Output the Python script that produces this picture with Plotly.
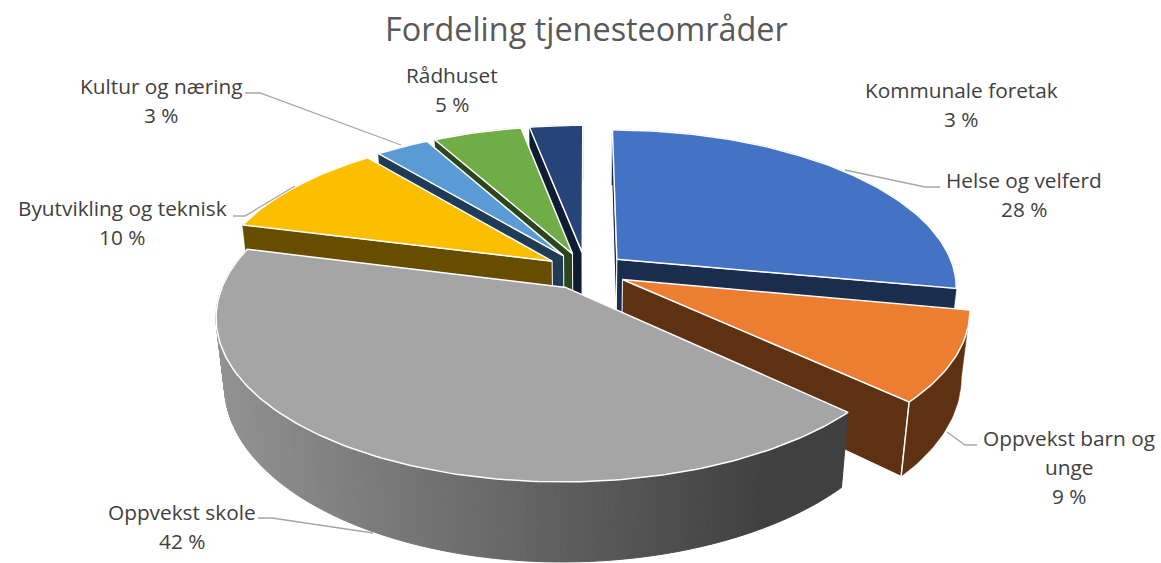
import numpy as np
import plotly.graph_objects as go

# ---- data ----
categories = ["Helse og velferd", "Oppvekst barn og unge", "Oppvekst skole",
              "Byutvikling og teknisk", "Kultur og næring", "Rådhuset", "Kommunale foretak"]
values = [28, 9, 42, 10, 3, 5, 3]
top_colors = ["#4472C4", "#ED7D31", "#A5A5A5", "#FCBF00", "#5B9BD5", "#70AD47", "#264478"]
side_colors = ["#1B2D4F", "#5F3113", "#7A7A7A", "#664D00", "#203B56", "#2D451C", "#0F1C33"]
paint_order = [6, 5, 4, 3, 0, 1, 2]
label_lines = [["Helse og velferd"], ["Oppvekst barn og", "unge"], ["Oppvekst skole"],
               ["Byutvikling og teknisk"], ["Kultur og næring"], ["Rådhuset"], ["Kommunale foretak"]]
label_centers = [(1024, 194), (1069, 467), (182, 526), (122, 222), (161, 100), (452, 89), (961, 104)]
leaders = [[(940, 187), (925, 187), (845, 170)],
           [(977, 445), (965, 445), (947, 432)],
           [(258, 518), (272, 518), (373, 533)],
           [(233, 216), (245, 216), (295, 186)],
           [(245, 93), (260, 93), (401, 145)]]

# ---- camera (oblique perspective of a pie with exploded slices) ----
CX, CY, R, K, P, EXPLODE, THICKNESS = 586, 271, 338, 155, 0.17, 0.12, 65


def project(X, Y, lower=False):
    X, Y = np.asarray(X, float), np.asarray(Y, float)
    s = 1 / (1 - P * Y)
    x = CX + R * X * s
    y = CY + K * Y * s
    if lower:
        d = THICKNESS * s
        x = CX + (x - CX) * (1 - d / 3000)
        y = y + d
    return x, y


fig = go.Figure()


def poly(x, y, fill, line="white", width=1.2):
    fig.add_trace(go.Scatter(x=list(x), y=list(y), mode="lines", fill="toself", fillcolor=fill,
                             line=dict(color=line, width=width), hoverinfo="skip", showlegend=False))


total = sum(values)
edges = np.cumsum([0] + values) / total * 2 * np.pi

for i in paint_order:
    a0, a1 = edges[i], edges[i + 1]
    mid = (a0 + a1) / 2
    ox, oy = EXPLODE * np.sin(mid), -EXPLODE * np.cos(mid)
    th = np.linspace(a0, a1, max(8, int((a1 - a0) * 60)))
    AX, AY = ox + np.sin(th), oy - np.cos(th)

    tx, ty = project(ox, oy)
    bx, by = project(ox, oy, True)
    top_x, top_y = project(AX, AY)
    low_x, low_y = project(AX, AY, True)
    mx, my = project(ox + np.sin(mid), oy - np.cos(mid))

    # radial cut faces: only those turned towards the viewer
    for j in (0, -1):
        ex, ey = top_x[j] - tx, top_y[j] - ty
        down = ex * (by - ty) - ey * (bx - tx)
        inner = ex * (my - ty) - ey * (mx - tx)
        if down * inner < 0:
            poly([tx, top_x[j], low_x[j], bx, tx], [ty, top_y[j], low_y[j], by, ty], side_colors[i], width=1)

    # outer wall
    if categories[i] == "Oppvekst skole":
        for j in range(len(th) - 1):
            t = np.clip((top_x[j] - 218) / (770 - 218), 0, 1)
            g = int(round(0x92 + (0x40 - 0x92) * t))
            c = f"rgb({g},{g},{g})"
            poly([top_x[j], top_x[j + 1], low_x[j + 1], low_x[j], top_x[j]],
                 [top_y[j], top_y[j + 1], low_y[j + 1], low_y[j], top_y[j]], c, line=c, width=1)
    else:
        poly(list(top_x) + list(low_x[::-1]) + [top_x[0]], list(top_y) + list(low_y[::-1]) + [top_y[0]],
             side_colors[i], line=side_colors[i], width=0.5)

    # corner line at the front of the wall
    if categories[i] == "Oppvekst barn og unge":
        fig.add_trace(go.Scatter(x=[top_x[-1], low_x[-1]], y=[top_y[-1], low_y[-1]], mode="lines",
                                 line=dict(color="white", width=1.5), hoverinfo="skip", showlegend=False))

    # top face
    poly([tx] + list(top_x) + [tx], [ty] + list(top_y) + [ty], top_colors[i], width=1.5)

# leader lines
for pts in leaders:
    fig.add_trace(go.Scatter(x=[p[0] for p in pts], y=[p[1] for p in pts], mode="lines",
                             line=dict(color="#A6A6A6", width=1.3), hoverinfo="skip", showlegend=False))

# labels: one annotation per line for the reference's line pitch
PITCH = 29
annotations = []
for lines, v, (lx, ly) in zip(label_lines, values, label_centers):
    rows = lines + [f"{v} %"]
    for n, row in enumerate(rows):
        annotations.append(dict(x=lx, y=ly + (n - (len(rows) - 1) / 2) * PITCH, text=row, xref="x", yref="y",
                                showarrow=False, xanchor="center", yanchor="middle",
                                font=dict(family="Open Sans", size=20.8, color="#404040")))
annotations.append(dict(x=586, y=28, text="Fordeling tjenesteområder", xref="x", yref="y", showarrow=False,
                        xanchor="center", yanchor="middle",
                        font=dict(family="Open Sans", size=32.4, color="#595959")))

fig.update_layout(
    width=1161, height=563, margin=dict(l=0, r=0, t=0, b=0),
    paper_bgcolor="white", plot_bgcolor="white", showlegend=False, annotations=annotations,
    xaxis=dict(range=[0, 1161], visible=False, fixedrange=True),
    yaxis=dict(range=[563, 0], visible=False, fixedrange=True),
)
fig.write_html("out.html", config={"displayModeBar": False},
               default_width="1161px", default_height="563px",
               post_script="document.body.style.margin='0';document.body.style.overflow='hidden';")
